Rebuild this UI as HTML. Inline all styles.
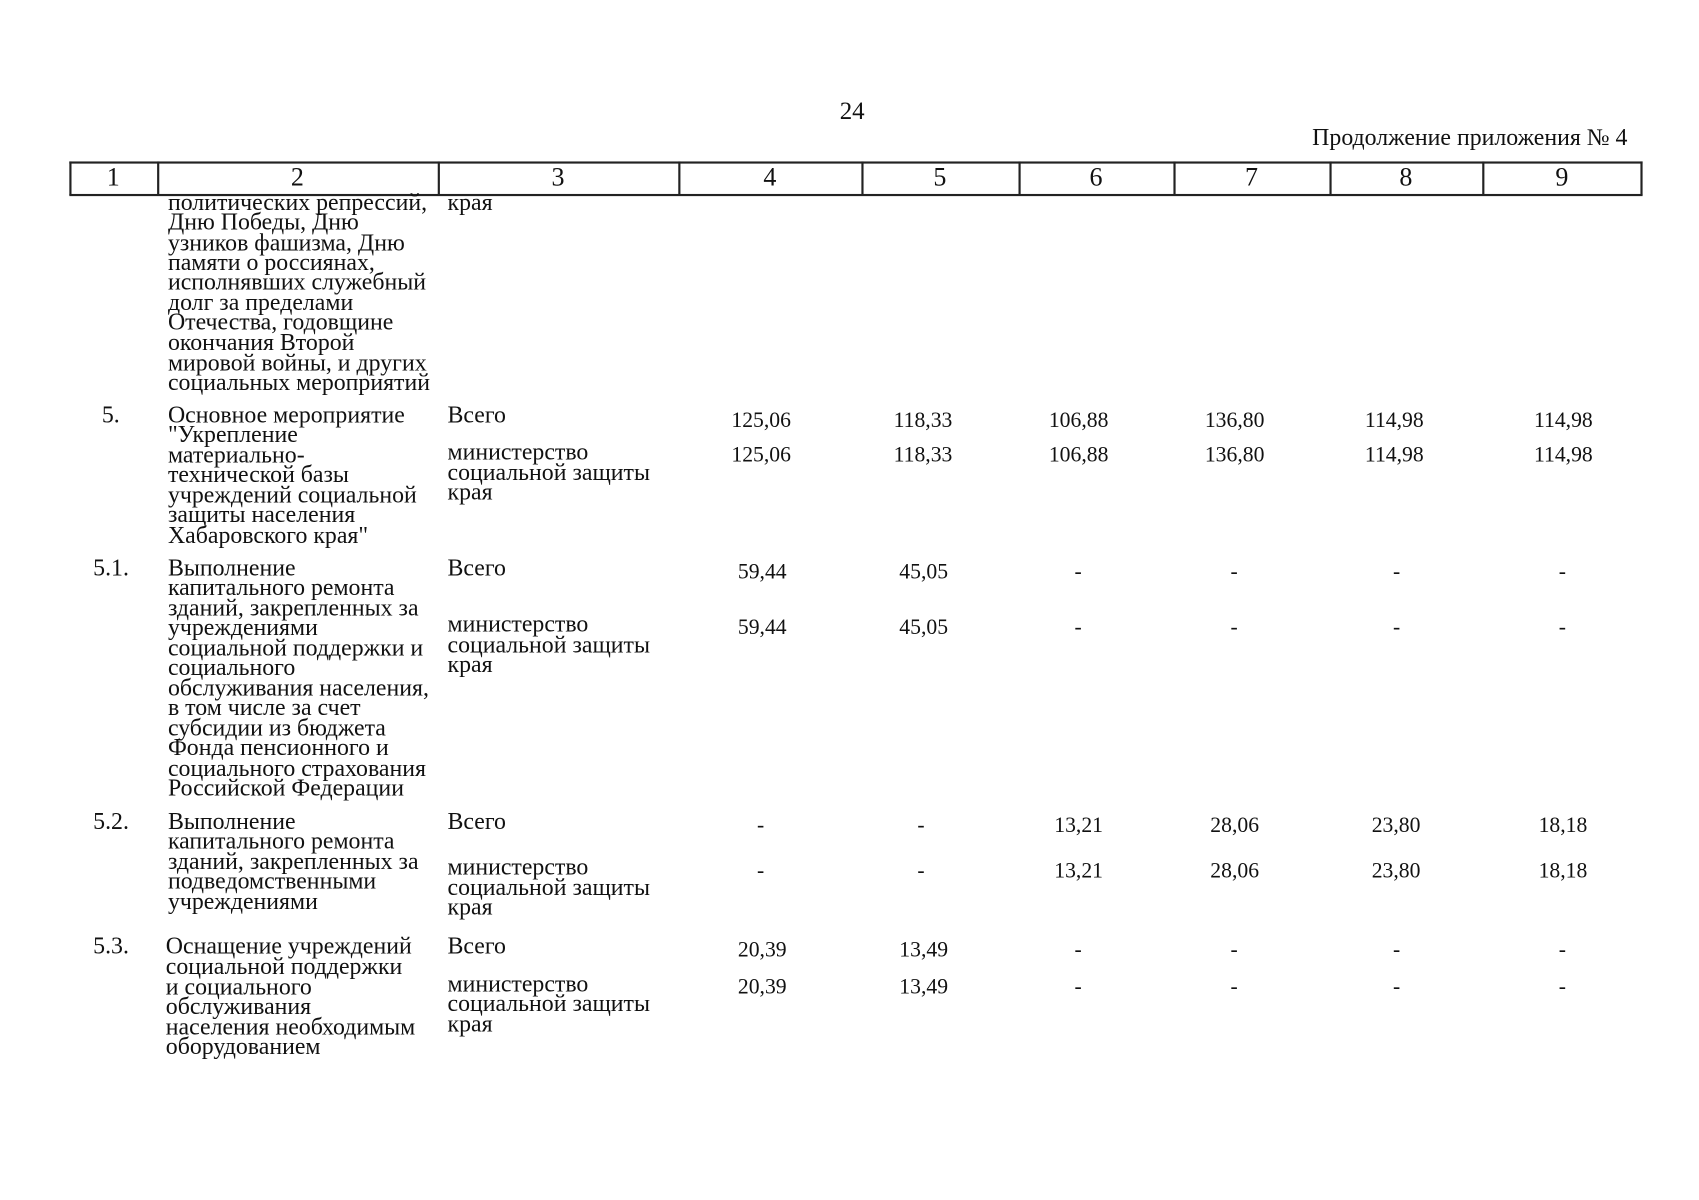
<!DOCTYPE html>
<html><head><meta charset="utf-8">
<style>
html,body{margin:0;padding:0;background:#fff;}
body{width:1699px;height:1200px;overflow:hidden;position:relative;}
#p{position:absolute;left:0;top:0;width:1568px;height:1107px;transform:scale(1.0835);transform-origin:0 0;font-family:"Liberation Serif",serif;color:#111;}
.t{position:absolute;font-size:22px;line-height:22px;white-space:nowrap;}
.n{position:absolute;font-size:20px;line-height:22px;white-space:nowrap;text-align:right;width:80px;}
.d{position:absolute;font-size:20px;line-height:22px;width:20px;text-align:center;}
.hl{position:absolute;background:#222;}
.h{position:absolute;top:149px;height:31px;line-height:30px;font-size:24px;text-align:center;}
</style></head><body><div id="p">
<div class="t" style="left:775px;top:92px;font-size:23px">24</div>
<div class="t" style="right:66px;top:116px;font-size:22px">Продолжение приложения № 4</div>

<div class="hl" style="left:64px;top:149px;width:1452px;height:2px"></div>
<div class="hl" style="left:64px;top:179px;width:1452px;height:2px"></div>
<div class="hl" style="left:64px;top:149px;width:2px;height:31px"></div>
<div class="hl" style="left:145px;top:149px;width:2px;height:31px"></div>
<div class="hl" style="left:404px;top:149px;width:2px;height:31px"></div>
<div class="hl" style="left:626px;top:149px;width:2px;height:31px"></div>
<div class="hl" style="left:795px;top:149px;width:2px;height:31px"></div>
<div class="hl" style="left:940px;top:149px;width:2px;height:31px"></div>
<div class="hl" style="left:1083px;top:149px;width:2px;height:31px"></div>
<div class="hl" style="left:1227px;top:149px;width:2px;height:31px"></div>
<div class="hl" style="left:1368px;top:149px;width:2px;height:31px"></div>
<div class="hl" style="left:1514px;top:149px;width:2px;height:31px"></div>
<div class="h" style="left:64px;width:81px">1</div>
<div class="h" style="left:145px;width:259px">2</div>
<div class="h" style="left:404px;width:222px">3</div>
<div class="h" style="left:626px;width:169px">4</div>
<div class="h" style="left:795px;width:145px">5</div>
<div class="h" style="left:940px;width:143px">6</div>
<div class="h" style="left:1083px;width:144px">7</div>
<div class="h" style="left:1227px;width:141px">8</div>
<div class="h" style="left:1368px;width:147px">9</div>

<div class="t" style="left:155px;top:176px">политических репрессий,</div>
<div class="t" style="left:155px;top:194px">Дню Победы, Дню</div>
<div class="t" style="left:155px;top:213px">узников фашизма, Дню</div>
<div class="t" style="left:155px;top:231px">памяти о россиянах,</div>
<div class="t" style="left:155px;top:249px">исполнявших служебный</div>
<div class="t" style="left:155px;top:268px">долг за пределами</div>
<div class="t" style="left:155px;top:286px">Отечества, годовщине</div>
<div class="t" style="left:155px;top:305px">окончания Второй</div>
<div class="t" style="left:155px;top:324px">мировой войны, и других</div>
<div class="t" style="left:155px;top:342px">социальных мероприятий</div>
<div class="t" style="left:413px;top:176px">края</div>

<div class="t" style="left:94px;top:372px">5.</div>
<div class="t" style="left:155px;top:372px">Основное мероприятие</div>
<div class="t" style="left:155px;top:390px">"Укрепление</div>
<div class="t" style="left:155px;top:409px">материально-</div>
<div class="t" style="left:155px;top:427px">технической базы</div>
<div class="t" style="left:155px;top:446px">учреждений социальной</div>
<div class="t" style="left:155px;top:464px">защиты населения</div>
<div class="t" style="left:155px;top:483px">Хабаровского края"</div>
<div class="t" style="left:413px;top:372px">Всего</div>
<div class="t" style="left:413px;top:406px">министерство</div>
<div class="t" style="left:413px;top:425px">социальной защиты</div>
<div class="t" style="left:413px;top:443px">края</div>
<div class="n" style="left:650px;top:377px">125,06</div>
<div class="n" style="left:799px;top:377px">118,33</div>
<div class="n" style="left:943px;top:377px">106,88</div>
<div class="n" style="left:1087px;top:377px">136,80</div>
<div class="n" style="left:1234px;top:377px">114,98</div>
<div class="n" style="left:1390px;top:377px">114,98</div>
<div class="n" style="left:650px;top:409px">125,06</div>
<div class="n" style="left:799px;top:409px">118,33</div>
<div class="n" style="left:943px;top:409px">106,88</div>
<div class="n" style="left:1087px;top:409px">136,80</div>
<div class="n" style="left:1234px;top:409px">114,98</div>
<div class="n" style="left:1390px;top:409px">114,98</div>

<div class="t" style="left:86px;top:513px">5.1.</div>
<div class="t" style="left:155px;top:513px">Выполнение</div>
<div class="t" style="left:155px;top:531px">капитального ремонта</div>
<div class="t" style="left:155px;top:550px">зданий, закрепленных за</div>
<div class="t" style="left:155px;top:568px">учреждениями</div>
<div class="t" style="left:155px;top:587px">социальной поддержки и</div>
<div class="t" style="left:155px;top:605px">социального</div>
<div class="t" style="left:155px;top:624px">обслуживания населения,</div>
<div class="t" style="left:155px;top:642px">в том числе за счет</div>
<div class="t" style="left:155px;top:661px">субсидии из бюджета</div>
<div class="t" style="left:155px;top:679px">Фонда пенсионного и</div>
<div class="t" style="left:155px;top:698px">социального страхования</div>
<div class="t" style="left:155px;top:716px">Российской Федерации</div>
<div class="t" style="left:413px;top:513px">Всего</div>
<div class="t" style="left:413px;top:565px">министерство</div>
<div class="t" style="left:413px;top:584px">социальной защиты</div>
<div class="t" style="left:413px;top:602px">края</div>
<div class="n" style="left:646px;top:517px">59,44</div>
<div class="n" style="left:795px;top:517px">45,05</div>
<div class="n" style="left:646px;top:568px">59,44</div>
<div class="n" style="left:795px;top:568px">45,05</div>
<div class="d" style="left:985px;top:517px">-</div>
<div class="d" style="left:1129px;top:517px">-</div>
<div class="d" style="left:1279px;top:517px">-</div>
<div class="d" style="left:1432px;top:517px">-</div>
<div class="d" style="left:985px;top:568px">-</div>
<div class="d" style="left:1129px;top:568px">-</div>
<div class="d" style="left:1279px;top:568px">-</div>
<div class="d" style="left:1432px;top:568px">-</div>

<div class="t" style="left:86px;top:747px">5.2.</div>
<div class="t" style="left:155px;top:747px">Выполнение</div>
<div class="t" style="left:155px;top:765px">капитального ремонта</div>
<div class="t" style="left:155px;top:784px">зданий, закрепленных за</div>
<div class="t" style="left:155px;top:802px">подведомственными</div>
<div class="t" style="left:155px;top:821px">учреждениями</div>
<div class="t" style="left:413px;top:747px">Всего</div>
<div class="t" style="left:413px;top:789px">министерство</div>
<div class="t" style="left:413px;top:808px">социальной защиты</div>
<div class="t" style="left:413px;top:826px">края</div>
<div class="d" style="left:692px;top:751px">-</div>
<div class="d" style="left:840px;top:751px">-</div>
<div class="d" style="left:692px;top:793px">-</div>
<div class="d" style="left:840px;top:793px">-</div>
<div class="n" style="left:938px;top:751px">13,21</div>
<div class="n" style="left:1082px;top:751px">28,06</div>
<div class="n" style="left:1231px;top:751px">23,80</div>
<div class="n" style="left:1385px;top:751px">18,18</div>
<div class="n" style="left:938px;top:793px">13,21</div>
<div class="n" style="left:1082px;top:793px">28,06</div>
<div class="n" style="left:1231px;top:793px">23,80</div>
<div class="n" style="left:1385px;top:793px">18,18</div>

<div class="t" style="left:86px;top:862px">5.3.</div>
<div class="t" style="left:153px;top:862px">Оснащение учреждений</div>
<div class="t" style="left:153px;top:881px">социальной поддержки</div>
<div class="t" style="left:153px;top:900px">и социального</div>
<div class="t" style="left:153px;top:918px">обслуживания</div>
<div class="t" style="left:153px;top:937px">населения необходимым</div>
<div class="t" style="left:153px;top:955px">оборудованием</div>
<div class="t" style="left:413px;top:862px">Всего</div>
<div class="t" style="left:413px;top:897px">министерство</div>
<div class="t" style="left:413px;top:915px">социальной защиты</div>
<div class="t" style="left:413px;top:934px">края</div>
<div class="n" style="left:646px;top:866px">20,39</div>
<div class="n" style="left:795px;top:866px">13,49</div>
<div class="n" style="left:646px;top:900px">20,39</div>
<div class="n" style="left:795px;top:900px">13,49</div>
<div class="d" style="left:985px;top:866px">-</div>
<div class="d" style="left:1129px;top:866px">-</div>
<div class="d" style="left:1279px;top:866px">-</div>
<div class="d" style="left:1432px;top:866px">-</div>
<div class="d" style="left:985px;top:900px">-</div>
<div class="d" style="left:1129px;top:900px">-</div>
<div class="d" style="left:1279px;top:900px">-</div>
<div class="d" style="left:1432px;top:900px">-</div>
</div></body></html>
